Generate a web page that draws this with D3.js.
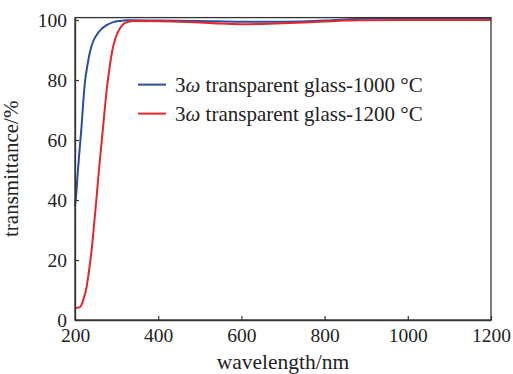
<!DOCTYPE html>
<html>
<head>
    <title>Transmittance</title>
    <script src="https://d3js.org/d3.v7.min.js"></script>
    <style>
        body { margin: 0; background: #fff; }
        svg text { font-family: "Liberation Serif", "Times New Roman", "DejaVu Serif", serif !important; fill: #222; }
    </style>
</head>
<body>
    <svg width="513" height="374"></svg>

    <script>
        // Readings from the picture
        var blueWave = [200, 203, 206, 210, 213, 216, 220, 224, 230, 236, 244, 252, 262, 276, 292, 308, 324, 340, 400, 500, 600, 700, 800, 850, 900, 1000, 1100, 1200];
        var blueT    = [38, 42, 48, 55, 60, 65, 73, 79.4, 85, 89.4, 93, 95, 96.8, 98.3, 99.3, 99.7, 99.9, 99.9, 99.8, 99.7, 99.4, 99.4, 99.8, 100.2, 100.5, 100.6, 100.6, 100.6];

        var redWave = [200, 205, 212, 216, 220, 228, 234, 240, 246, 250, 256, 262, 268, 272, 276, 280, 284, 288, 292, 296, 300, 308, 316, 328, 340, 400, 450, 500, 550, 600, 650, 700, 750, 800, 850, 900, 1000, 1200];
        var redT    = [4.1, 4.1, 4.3, 5.2, 6.7, 11.1, 16.7, 23.3, 32, 38, 47.5, 56.5, 65, 71, 76.5, 81, 85, 88.5, 91.3, 93.3, 95, 97.2, 98.6, 99.4, 99.7, 99.6, 99.4, 99.2, 98.8, 98.6, 98.7, 98.9, 99.2, 99.5, 99.8, 99.9, 100, 100];

        var seriesNames = ["1000 °C", "1200 °C"];
        var xTicks = [200, 400, 600, 800, 1000, 1200];
        var yTicks = [0, 20, 40, 60, 80, 100];

        var margin = {top: 17.6, left: 75},
            width = 416,
            height = 302.4;

        var x = d3.scaleLinear().domain([200, 1200]).range([0, width]);
        var y = d3.scaleLinear().domain([0, 100.8]).range([height, 0]);

        var svg = d3.select("svg")
          .append("g")
            .attr("transform", "translate(" + margin.left + "," + margin.top + ")");

        var line = d3.line()
            .x(function(d) { return x(d[0]); })
            .y(function(d) { return y(d[1]); })
            .curve(d3.curveMonotoneX);

        var series = [
            {name: seriesNames[0], color: "#2a4f9e", pts: d3.zip(blueWave, blueT)},
            {name: seriesNames[1], color: "#e5262b", pts: d3.zip(redWave, redT)}
        ];

        // curves
        series.forEach(function(s) {
            svg.append("path")
                .datum(s.pts)
                .attr("fill", "none")
                .attr("stroke", s.color)
                .attr("stroke-width", 2)
                .attr("d", line);
        });

        // frame
        svg.append("rect")
            .attr("width", width)
            .attr("height", height)
            .attr("fill", "none")
            .attr("stroke", "#333")
            .attr("stroke-width", 1.3);

        // axes, ticks pointing inward
        var xAxis = svg.append("g")
            .attr("transform", "translate(0," + height + ")")
            .call(d3.axisBottom(x).tickValues(xTicks).tickFormat(d3.format("d"))
                .tickSizeInner(-4).tickSizeOuter(0).tickPadding(8));
        var yAxis = svg.append("g")
            .call(d3.axisLeft(y).tickValues(yTicks).tickFormat(d3.format("d"))
                .tickSizeInner(-4).tickSizeOuter(0).tickPadding(8));

        [xAxis, yAxis].forEach(function(a) {
            a.attr("font-family", null);
            a.select(".domain").attr("stroke", "#333").attr("stroke-width", 1.3);
            a.selectAll(".tick line").attr("stroke", "#333").attr("stroke-width", 1.2);
            a.selectAll(".tick text")
                .attr("font-size", 19.5)
                .attr("fill", "#222");
        });

        // legend
        var legend = svg.append("g").attr("transform", "translate(63,67)");
        series.forEach(function(s, i) {
            var g = legend.append("g").attr("transform", "translate(0," + (i * 29) + ")");
            g.append("line")
                .attr("x1", 0).attr("x2", 28)
                .attr("stroke", s.color).attr("stroke-width", 2);
            var t = g.append("text")
                .attr("x", 37)
                .attr("dy", "0.35em")
                .attr("font-size", 21);
            t.append("tspan").text("3");
            t.append("tspan").attr("font-style", "italic").text("\u03c9");
            t.append("tspan").text(" transparent glass-" + s.name);
        });

        // axis titles
        svg.append("text")
            .attr("x", width / 2)
            .attr("y", height + 49)
            .attr("text-anchor", "middle")
            .attr("font-size", 21.5)
            .text("wavelength/nm");

        svg.append("text")
            .attr("transform", "translate(-57," + (height / 2) + ") rotate(-90)")
            .attr("text-anchor", "middle")
            .attr("font-size", 21)
            .text("transmittance/%");
    </script>
</body>
</html>
